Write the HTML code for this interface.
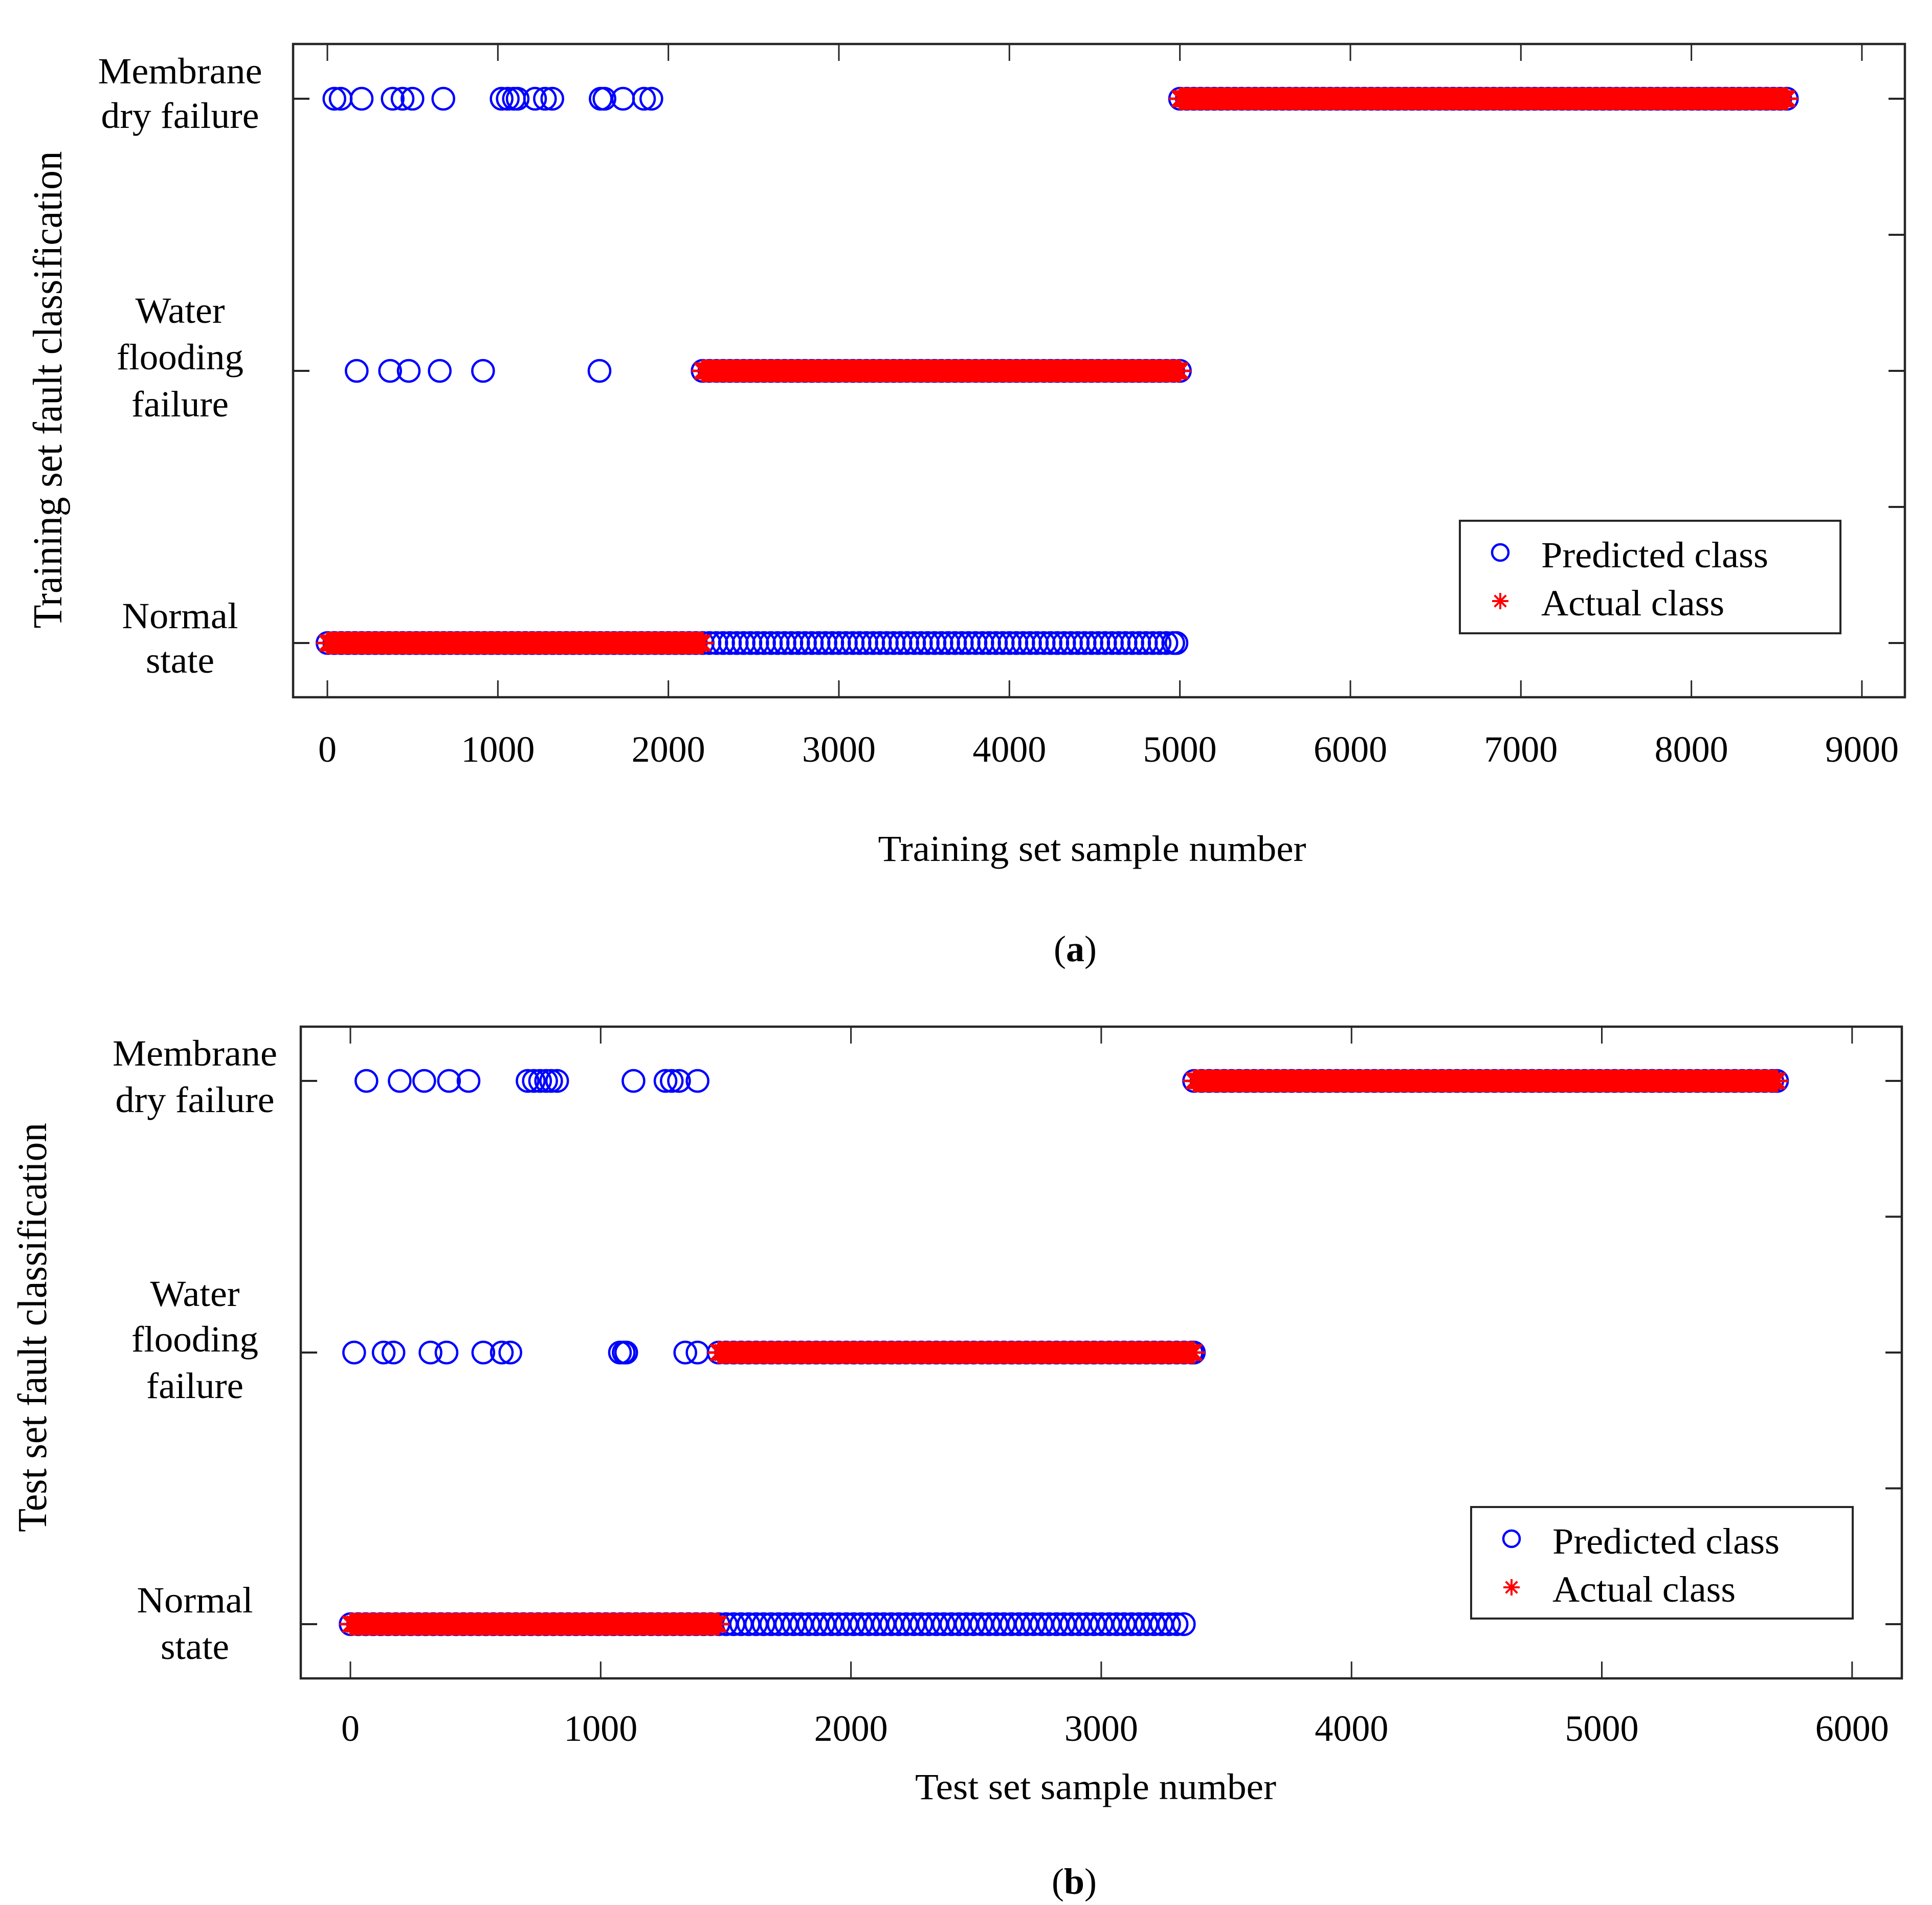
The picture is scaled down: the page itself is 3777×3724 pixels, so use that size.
<!DOCTYPE html>
<html><head><meta charset="utf-8"><style>
html,body{margin:0;padding:0;background:#fff;}
svg{display:block;}
text{font-family:"Liberation Serif","Times New Roman",serif;fill:#000;}
</style></head><body>
<svg id="chart" width="3777" height="3724" viewBox="0 0 3777 3724" xmlns="http://www.w3.org/2000/svg">
<rect x="0" y="0" width="3777" height="3724" fill="#fff"/>
<g id="pa"></g>
<g id="pb"></g>
<text x="2102" y="1879" font-size="72" text-anchor="middle">(<tspan font-weight="bold">a</tspan>)</text>
<text x="2100" y="3702" font-size="72" text-anchor="middle">(<tspan font-weight="bold">b</tspan>)</text>
</svg>
<script>
// ---- Panel (a) training data ----
const classNames = ["Normal state", "Water flooding failure", "Membrane dry failure"];
const aTicks = [0,1000,2000,3000,4000,5000,6000,7000,8000,9000];
const aActualStart = [1, 2201, 5001];
const aActualEnd = [2200, 5000, 8560];
const aPredDenseStart = [1, 2201, 5001];
const aPredDenseEnd = [4980, 5000, 8560];
const aPredWaterSparse = [172, 368, 477, 659, 913, 1596];
const aPredMembraneSparse = [41, 78, 201, 383, 441, 499, 680, 1022, 1058, 1094, 1116, 1218, 1276, 1319, 1603, 1625, 1734, 1857, 1900];
// ---- Panel (b) test data ----
const bTicks = [0,1000,2000,3000,4000,5000,6000];
const bActualStart = [1, 1471, 3371];
const bActualEnd = [1470, 3370, 5700];
const bPredDenseStart = [1, 1471, 3371];
const bPredDenseEnd = [3330, 3370, 5700];
const bPredWaterSparse = [15, 133, 172, 320, 384, 531, 605, 639, 1077, 1092, 1102, 1338, 1387];
const bPredMembraneSparse = [64, 197, 295, 394, 472, 708, 733, 758, 782, 802, 826, 1131, 1259, 1284, 1313, 1387];

const NS = "http://www.w3.org/2000/svg";
function mk(parent, tag, attrs){
  const e = document.createElementNS(NS, tag);
  for (const k in attrs) e.setAttribute(k, attrs[k]);
  parent.appendChild(e);
  return e;
}
function starPath(cx, cy, r){
  const d = r*0.7071;
  return `M${cx-r} ${cy}H${cx+r}M${cx} ${cy-r}V${cy+r}M${cx-d} ${cy-d}L${cx+d} ${cy+d}M${cx-d} ${cy+d}L${cx+d} ${cy-d}`;
}

function drawPanel(g, cfg){
  const {L,R,T,B,x0,pxPer,rows,ticks,actS,actE,predS,predE,waterSp,memSp,step} = cfg;
  const X = v => x0 + v*pxPer;
  const Y = c => rows[c];
  const col = "#262626";
  let dC = "";
  const r = 21;
  for (let c=0;c<3;c++){
    for (let v=predS[c]; v<=predE[c]; v+=step){
      const cx=X(v), cy=Y(c);
      dC += `M${cx-r} ${cy}a${r} ${r} 0 1 0 ${2*r} 0a${r} ${r} 0 1 0 ${-2*r} 0`;
    }
    const cx=X(predE[c]), cy=Y(c);
    dC += `M${cx-r} ${cy}a${r} ${r} 0 1 0 ${2*r} 0a${r} ${r} 0 1 0 ${-2*r} 0`;
  }
  const pd = mk(g,"path",{d:dC,fill:"none",stroke:"#0000ff","stroke-width":4.5});
  
  
  const sp = [[1,waterSp],[2,memSp]];
  sp.forEach(([c,arr])=>{
    arr.forEach(v=>{
      const ci = mk(g,"circle",{cx:X(v),cy:Y(c),r:r,fill:"none",stroke:"#0000ff","stroke-width":4.5});
      
      
    });
  });
  let dS = "";
  for (let c=0;c<3;c++){
    for (let v=actS[c]; v<=actE[c]; v+=8) dS += starPath(X(v),Y(c),22);
    dS += starPath(X(actE[c]),Y(c),22);
  }
  const ad = mk(g,"path",{d:dS,fill:"none",stroke:"#ff0000","stroke-width":5});
  
  
  const box = mk(g,"rect",{x:L,y:T,width:R-L,height:B-T,fill:"none",stroke:col,"stroke-width":4.5});
  
  
  ticks.forEach(t=>{
    const x=X(t);
    const tl = mk(g,"path",{d:`M${x} ${B}V${B-33}M${x} ${T}V${T+33}`,stroke:col,"stroke-width":3});
    
    
    const tx = mk(g,"text",{x:x,y:cfg.tickY,"font-size":72,"text-anchor":"middle"});
    tx.textContent = t;
    
    
  });
  for (let c=0;c<3;c++){
    const y=Y(c);
    const yt = mk(g,"path",{d:`M${L} ${y}H${L+32}M${R} ${y}H${R-32}`,stroke:col,"stroke-width":4});
    
    
    if (c<2){
      const ym=(Y(c)+Y(c+1))/2;
      const mt = mk(g,"path",{d:`M${R} ${ym}H${R-32}`,stroke:col,"stroke-width":4});
      
      
    }
  }
  cfg.catLabels.forEach(l=>{
    const t = mk(g,"text",{x:cfg.catX,y:l[1],"font-size":72,"text-anchor":"middle",textLength:l[2],lengthAdjust:"spacingAndGlyphs"});
    t.textContent=l[0];
    
    
  });
  const xt = mk(g,"text",{x:cfg.xTitle[1],y:cfg.xTitle[2],"font-size":72,"text-anchor":"middle",textLength:cfg.xTitle[3],lengthAdjust:"spacingAndGlyphs"});
  xt.textContent=cfg.xTitle[0];
  
  
  const yt = mk(g,"text",{x:0,y:0,"font-size":80,"text-anchor":"middle",textLength:cfg.yTitle[3],lengthAdjust:"spacingAndGlyphs",transform:`translate(${cfg.yTitle[1]},${cfg.yTitle[2]}) rotate(-90)`});
  yt.textContent=cfg.yTitle[0];
  
  
  const lg = cfg.legend;
  const lgG = mk(g,"g",{});
  
  
  mk(lgG,"rect",{x:lg.x,y:lg.y,width:lg.w,height:lg.h,fill:"#fff",stroke:col,"stroke-width":4});
  const lc = mk(lgG,"circle",{cx:lg.x+79,cy:lg.y+62,r:16,fill:"none",stroke:"#0000ff","stroke-width":4.5});
  
  
  const ls = mk(lgG,"path",{d:starPath(lg.x+79,lg.y+157,16),stroke:"#ff0000","stroke-width":4,fill:"none"});
  
  
  const t1 = mk(lgG,"text",{x:lg.x+159,y:lg.y+91,"font-size":72,textLength:444,lengthAdjust:"spacingAndGlyphs"});
  t1.textContent="Predicted class";
  
  
  const t2 = mk(lgG,"text",{x:lg.x+159,y:lg.y+185,"font-size":72,textLength:358,lengthAdjust:"spacingAndGlyphs"});
  t2.textContent="Actual class";
  
  
}

drawPanel(document.getElementById("pa"), {
  L:573,R:3724,T:86,B:1363,x0:640,pxPer:0.33333,rows:[1257,725,193],
  ticks:aTicks,actS:aActualStart,actE:aActualEnd,predS:aPredDenseStart,predE:aPredDenseEnd,
  waterSp:aPredWaterSparse,memSp:aPredMembraneSparse,step:40,tickY:1489,
  catX:352,
  catLabels:[["Membrane",163,321],["dry failure",250,309],["Water",631,175],["flooding",722,248],["failure",814,190],["Normal",1228,227],["state",1315,134]],
  xTitle:["Training set sample number",2135,1683,837],
  yTitle:["Training set fault classification",120,762,933],
  legend:{x:2854,y:1018,w:744,h:220}
});
drawPanel(document.getElementById("pb"), {
  L:588,R:3718,T:2007,B:3281,x0:685,pxPer:0.4893,rows:[3175,2644,2113],
  ticks:bTicks,actS:bActualStart,actE:bActualEnd,predS:bPredDenseStart,predE:bPredDenseEnd,
  waterSp:bPredWaterSparse,memSp:bPredMembraneSparse,step:30,tickY:3403,
  catX:381,
  catLabels:[["Membrane",2083,322],["dry failure",2174,311],["Water",2553,175],["flooding",2642,248],["failure",2733,190],["Normal",3152,227],["state",3243,134]],
  xTitle:["Test set sample number",2142,3517,706],
  yTitle:["Test set fault classification",90,2595,800],
  legend:{x:2876,y:2946,w:746,h:218}
});
</script>
</body></html>
